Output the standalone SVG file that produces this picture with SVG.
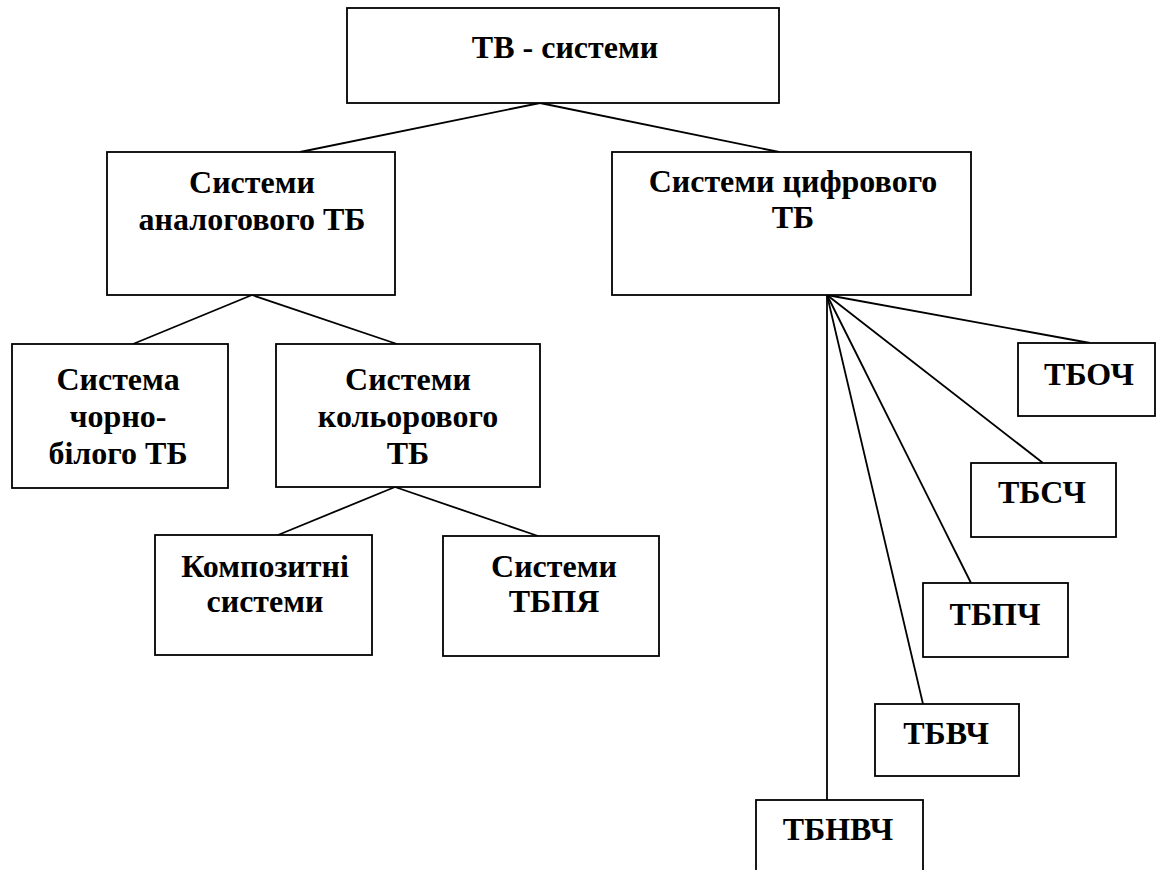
<svg xmlns="http://www.w3.org/2000/svg" width="1157" height="870" viewBox="0 0 1157 870">
<style>
  .box { fill: #ffffff; stroke: #000000; stroke-width: 1.8; }
  .lbl { font-family: "Liberation Serif", "Times New Roman", serif; font-weight: bold; font-size: 32px; fill: #000000; text-anchor: middle; }
  .conn line { stroke: #000000; stroke-width: 1.8; }
</style>
<rect width="1157" height="870" fill="#ffffff"/>
<g id="connectors" class="conn">
  <line x1="540" y1="103" x2="300" y2="152"/>
  <line x1="540" y1="103" x2="779" y2="152"/>
  <line x1="252" y1="295" x2="133" y2="344"/>
  <line x1="252" y1="295" x2="397" y2="344"/>
  <line x1="395" y1="487" x2="278" y2="535"/>
  <line x1="395" y1="487" x2="538" y2="536"/>
  <line x1="827" y1="295" x2="1090" y2="343"/>
  <line x1="827" y1="295" x2="1043" y2="463"/>
  <line x1="827" y1="295" x2="971" y2="583"/>
  <line x1="827" y1="295" x2="923" y2="704"/>
  <line x1="827" y1="295" x2="827" y2="800"/>
</g>
<g id="node-tv">
  <rect class="box" x="347" y="8" width="432" height="95"/>
  <text class="lbl" x="565" y="58">ТВ - системи</text>
</g>
<g id="node-analog">
  <rect class="box" x="107" y="152" width="288" height="143"/>
  <text class="lbl" x="252" y="193">Системи</text>
  <text class="lbl" x="252" y="230">аналогового ТБ</text>
</g>
<g id="node-digital">
  <rect class="box" x="612" y="152" width="359" height="143"/>
  <text class="lbl" x="793" y="192">Системи цифрового</text>
  <text class="lbl" x="793" y="228">ТБ</text>
</g>
<g id="node-bw">
  <rect class="box" x="12" y="344" width="216" height="144"/>
  <text class="lbl" x="118" y="390">Система</text>
  <text class="lbl" x="118" y="427">чорно-</text>
  <text class="lbl" x="118" y="464">білого ТБ</text>
</g>
<g id="node-color">
  <rect class="box" x="276" y="344" width="264" height="143"/>
  <text class="lbl" x="408" y="390">Системи</text>
  <text class="lbl" x="408" y="427">кольорового</text>
  <text class="lbl" x="408" y="464">ТБ</text>
</g>
<g id="node-composite">
  <rect class="box" x="155" y="535" width="217" height="120"/>
  <text class="lbl" x="265" y="577">Композитні</text>
  <text class="lbl" x="265" y="612">системи</text>
</g>
<g id="node-tbpya">
  <rect class="box" x="443" y="536" width="216" height="120"/>
  <text class="lbl" x="554" y="577">Системи</text>
  <text class="lbl" x="554" y="612">ТБПЯ</text>
</g>
<g id="node-tboch">
  <rect class="box" x="1018" y="343" width="137" height="73"/>
  <text class="lbl" x="1089" y="385">ТБОЧ</text>
</g>
<g id="node-tbsch">
  <rect class="box" x="971" y="463" width="145" height="74"/>
  <text class="lbl" x="1042" y="503">ТБСЧ</text>
</g>
<g id="node-tbpch">
  <rect class="box" x="923" y="583" width="145" height="74"/>
  <text class="lbl" x="995" y="625">ТБПЧ</text>
</g>
<g id="node-tbvch">
  <rect class="box" x="875" y="704" width="144" height="72"/>
  <text class="lbl" x="946" y="744">ТБВЧ</text>
</g>
<g id="node-tbnvch">
  <rect class="box" x="756" y="800" width="167" height="80"/>
  <text class="lbl" x="838" y="840">ТБНВЧ</text>
</g>
</svg>
